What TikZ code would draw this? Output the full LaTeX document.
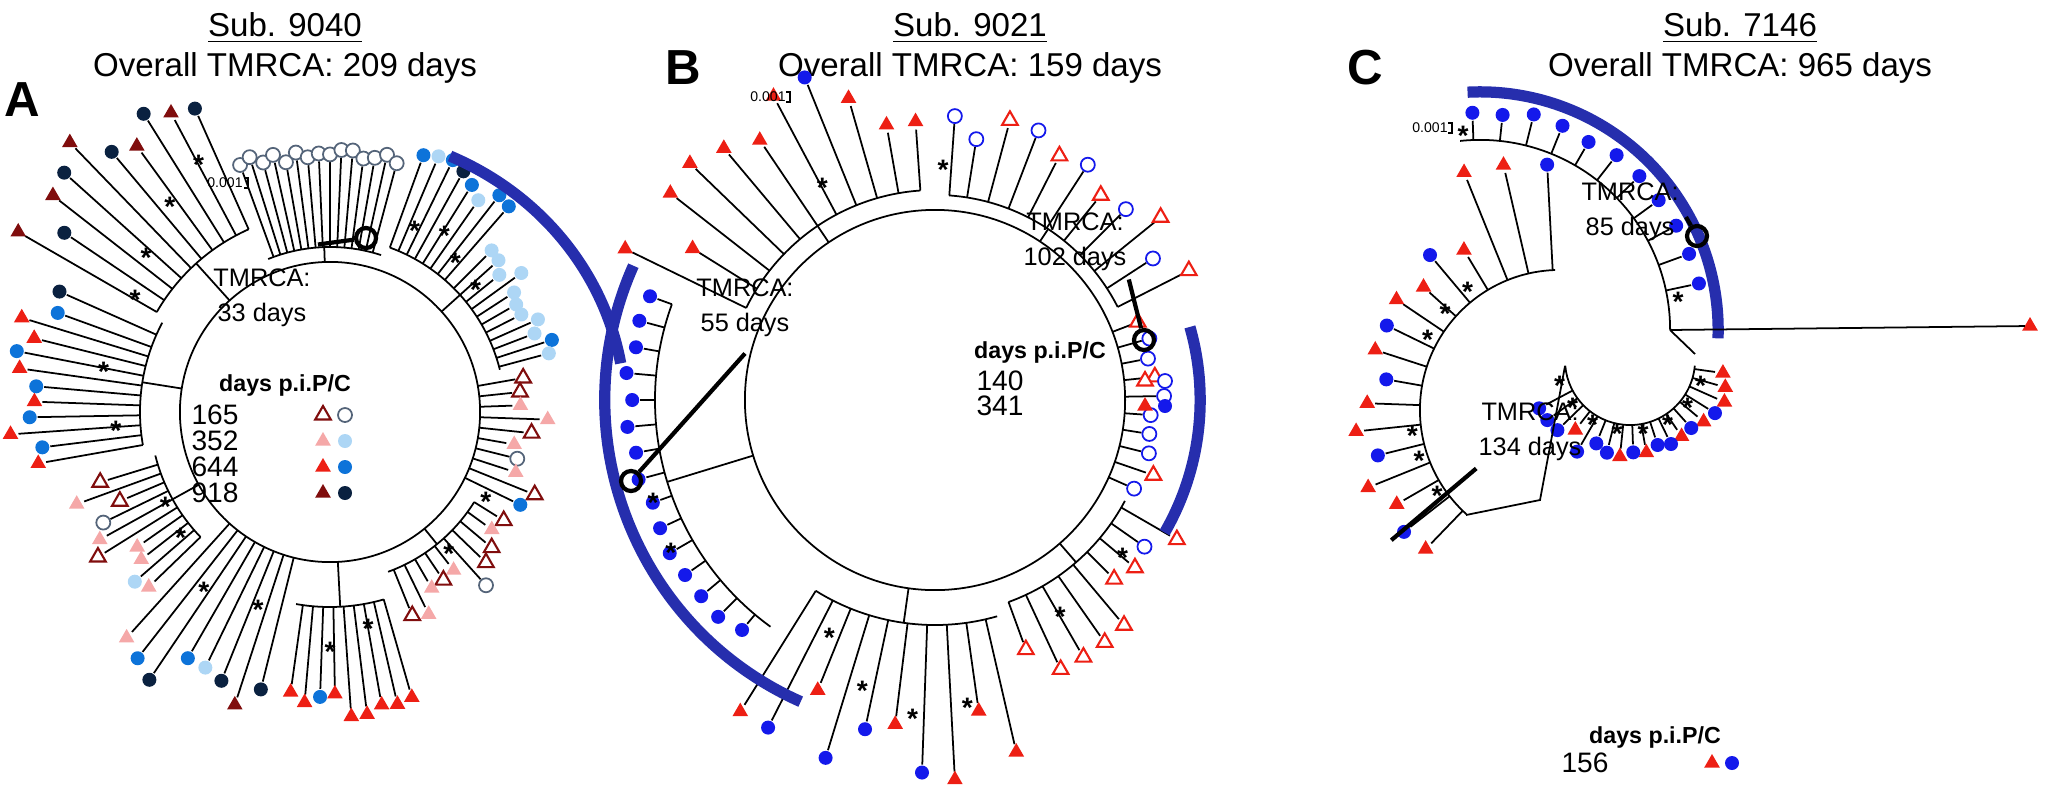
\documentclass[tikz,border=0pt]{standalone}
\usepackage{fontspec}
\setmainfont{Liberation Sans}
\usetikzlibrary{
  arrows.meta,
  positioning,
  shapes.geometric
}
\usepackage{xcolor}
\definecolor{darkRed}{rgb}{0.50,0.05,0.05}
\definecolor{pinkTri}{rgb}{0.96,0.66,0.66}
\definecolor{redTri}{rgb}{0.93,0.12,0.08}
\definecolor{lightBlue}{rgb}{0.68,0.84,0.96}
\definecolor{midBlue}{rgb}{0.05,0.45,0.85}
\definecolor{navyDot}{rgb}{0.04,0.13,0.25}
\definecolor{pureBlue}{rgb}{0.08,0.10,0.92}
\definecolor{arcBlue}{rgb}{0.15,0.18,0.68}
\tikzset{
  br/.style={line width=0.5pt, black},
  mk/.style={inner sep=0pt, outer sep=0pt},
  tri/.style={mk, regular polygon, regular polygon sides=3, minimum size=0.18cm},
  dot/.style={mk, circle, minimum size=0.14cm},
  oNv/.style={dot, draw=navyDot!70, line width=0.5pt, fill=white},
  lbC/.style={dot, fill=lightBlue},
  mbC/.style={dot, fill=midBlue},
  nvC/.style={dot, fill=navyDot},
  oRt/.style={tri, draw=darkRed, line width=0.6pt, fill=white},
  pkT/.style={tri, fill=pinkTri},
  rdT/.style={tri, fill=redTri},
  drT/.style={tri, fill=darkRed},
  bC/.style={dot, fill=pureBlue},
  oBC/.style={dot, draw=pureBlue, line width=0.5pt, fill=white},
  oRT/.style={tri, draw=redTri, line width=0.6pt, fill=white},
  ast/.style={inner sep=0pt, font=\fontsize{8}{8}\selectfont\bfseries},
  bluearc/.style={arcBlue, line width=3.2pt},
  ttl/.style={align=center, font=\fontsize{9.4}{11.4}\selectfont},
  lbl/.style={font=\fontsize{14}{14}\selectfont\bfseries},
  tmr/.style={align=center, font=\fontsize{7.2}{10}\selectfont},
  leg/.style={font=\fontsize{8}{9}\selectfont, inner sep=0pt},
  legh/.style={font=\fontsize{6.6}{8}\selectfont\bfseries, inner sep=0pt},
  mrca/.style={circle, draw, line width=1.2pt, minimum size=0.2cm, inner sep=0pt},
  tiny/.style={font=\fontsize{4}{4}\selectfont, inner sep=0pt}
}
\newcommand\tip[4]{%
  \pgfmathsetmacro\tipEnd{#2+#3}\pgfmathsetmacro\tipMark{#2+#3+8}%
  \draw[br] (#1:#2) -- (#1:\tipEnd);
  \node[#4] at (#1:\tipMark) {};}
% base radius, least length, spread, angle/style list
\newcommand\tipset[4]{%
  \foreach \a/\s in {#4}{\pgfmathsetmacro\len{#2+#3*rnd}\tip{\a}{#1}{\len}{\s}}}
% clade: from backbone \Rb out to radius #3, arc from #1 to #2
\newcommand\clade[3]{%
  \pgfmathsetmacro\cMid{(#1+#2)/2}\pgfmathsetmacro\cRad{#3/100}%
  \draw[br] (\cMid:\Rb) -- (\cMid:#3);
  \draw[br] (#1:#3) arc[start angle=#1, end angle=#2, radius=\cRad cm];}

\begin{document}
\begin{tikzpicture}[x=0.01cm, y=-0.01cm]
  \pgfmathsetseed{11}
  \useasboundingbox (0,0) rectangle (2049,800);

  % titles
  \node[lbl] (labA) at (22,100) {A};
  \node[lbl] (labB) at (683,68) {B};
  \node[lbl] (labC) at (1365,68) {C};
  \node[ttl] (ttlA) at (285,48) {\underline{Sub. 9040}\\Overall TMRCA: 209 days};
  \node[ttl] (ttlB) at (970,48) {\underline{Sub. 9021}\\Overall TMRCA: 159 days};
  \node[ttl] (ttlC) at (1740,48) {\underline{Sub. 7146}\\Overall TMRCA: 965 days};

  % panel A
  \begin{scope}[shift={(330,412)}, y=0.01cm]
    \def\Rb{150}
    \draw[br] (0,0) circle (1.5cm);
    \clade{112}{72}{165}
    \tipset{165}{80}{15}{110/oNv,107.5/oNv,105/oNv,102.5/oNv,100/oNv,97.5/oNv,95/oNv,92.5/oNv,90/oNv,87.5/oNv,85/oNv,82.5/oNv,80/oNv,77.5/oNv,75/oNv}
    \clade{70}{14}{175}
    \tipset{175}{70}{30}{70/mbC,67/lbC,64/mbC,61/nvC,58/mbC,55/lbC,52/mbC,49/mbC}
    \tipset{175}{30}{25}{45/lbC,42/lbC,39/lbC,36/lbC,33/lbC,30/lbC,27/lbC,24/lbC,21/lbC,18/mbC,15/lbC}
    \tipset{150}{25}{60}{10/oRt,6/oRt,2/pkT,-2/pkT,-6/oRt,-10/pkT,-14/oNv,-18/pkT,-22/oRt,-26/mbC}
    \clade{-32}{-70}{170}
    \tipset{170}{20}{40}{-32/oRt,-36/pkT,-40/oRt,-44/oRt,-48/oNv,-52/pkT,-56/oRt,-60/pkT,-64/pkT,-68/oRt}
    \clade{-74}{-100}{195}
    \tipset{195}{70}{40}{-74/rdT,-77/rdT,-80/rdT,-83/rdT,-86/rdT,-89/rdT,-92/mbC,-95/rdT,-98/rdT}
    \tipset{150}{110}{70}{-104/nvC,-108/drT,-112/nvC,-116/lbC,-120/mbC,-124/nvC,-128/mbC,-132/pkT}
    \clade{-136}{-166}{180}
    \tipset{180}{40}{50}{-136/pkT,-139/lbC,-142/pkT,-145/pkT,-148/oRt,-151/pkT,-154/oNv,-157/oRt,-160/pkT,-163/oRt}
    \clade{-170}{-208}{190}
    \tipset{190}{90}{40}{-170/rdT,-173/mbC,-176/rdT,-179/mbC,-182/rdT,-185/mbC,-188/rdT,-191/mbC,-194/rdT,-197/rdT,-200/mbC,-204/nvC}
    \clade{150}{114}{200}
    \tipset{200}{110}{70}{150/drT,146/nvC,142/drT,138/nvC,134/drT,130/nvC,126/drT,122/nvC,118/drT,114/nvC}
    \foreach \a/\r in {65/200,57/210,50/195,40/190,-30/180,-50/185,-80/220,-90/240,-110/210,-125/220,-140/195,-150/190,-175/215,-190/230,140/240,128/260,118/280,150/225}
      \node[ast] at (\a:\r) {*};
    \draw[bluearc] (66:2.95cm and 2.8cm) arc[start angle=66, end angle=10, x radius=2.95cm, y radius=2.8cm];
  \end{scope}
  \node[tiny] (scA) at (225,183) {0.001};
  \draw[br] (244,178) -- (248,178) -- (248,188) -- (244,188);
  \node[mrca] (cA) at (366,238) {};
  \node[tmr] (tA) at (262,298) {TMRCA:\\33 days};
  \draw[line width=1.2pt] (tA.north east) ++(-5,-12) -- (cA);
  \node[legh] (hA) at (285,385) {days p.i.P/C};
  \foreach \v/\t/\c [count=\i] in {165/oRt/oNv,352/pkT/lbC,644/rdT/mbC,918/drT/nvC} {
    \node[leg] (nA\i) at (215,389+\i*26) {\v};
    \node[\t] (mtA\i) at (323,389+\i*26) {};
    \node[\c] (mcA\i) at (345,389+\i*26) {};
  }

  % panel B
  \begin{scope}[shift={(935,400)}, y=0.01cm]
    \def\Rb{190}
    \draw[br] (0,0) circle (1.9cm);
    \clade{160}{234}{280}
    \tipset{280}{12}{10}{160/bC,165/bC,170/bC,175/bC,180/bC,185/bC,190/bC,195/bC,200/bC,205/bC,210/bC,215/bC,220/bC,225/bC,230/bC}
    \clade{238}{286}{225}
    \tipset{225}{80}{70}{238/rdT,243/bC,248/rdT,253/bC,258/bC,263/rdT,268/bC,273/rdT,278/rdT,283/rdT}
    \clade{290}{332}{215}
    \tipset{215}{30}{45}{290/oRT,295/oRT,300/oRT,305/oRT,310/oRT,315/oRT,320/oRT,325/oBC,330/oRT}
    \tipset{190}{15}{20}{336/oBC,341/oRT,346/oBC,351/oBC,356/oBC,1/oBC,6/oRT,11/oBC,16/oBC,21/oRT}
    \clade{27}{86}{205}
    \tipset{205}{40}{45}{27/oRT,33/oBC,39/oRT,45/oBC,51/oRT,57/oBC,63/oRT,69/oBC,75/oRT,81/oBC,86/oBC}
    \clade{94}{154}{210}
    \tipset{210}{60}{90}{94/rdT,100/rdT,106/rdT,112/bC,118/rdT,124/rdT,130/rdT,136/rdT,142/rdT,148/rdT,154/rdT}
    \foreach \a/\r in {200/300,210/305,246/260,256/300,266/320,276/310,300/250,320/245,88/230,118/240}
      \node[ast] at (\a:\r) {*};
    \draw[bluearc] (156:3.3cm) arc[start angle=156, end angle=246, radius=3.3cm];
    \draw[bluearc] (16:2.65cm) arc[start angle=16, end angle=-30, radius=2.65cm];
  \end{scope}
  \node[tiny] (scB) at (768,97) {0.001};
  \draw[br] (786,92) -- (790,92) -- (790,102) -- (786,102);
  \node[mrca] (cB1) at (1144,340) {};
  \node[mrca] (cB2) at (631,481) {};
  \node[tmr] (tB1) at (1075,242) {TMRCA:\\102 days};
  \node[tmr] (tB2) at (745,308) {TMRCA:\\55 days};
  \draw[line width=1.2pt] (tB1.south east) ++(-10,-4) -- (cB1);
  \draw[line width=1.2pt] (tB2.south) ++(0,4) -- (cB2);
  \node[legh] (hB) at (1040,352) {days p.i.P/C};
  \foreach \v/\t/\c [count=\i] in {140/oRT/oBC,341/rdT/bC} {
    \node[leg] (nB\i) at (1000,356+\i*25) {\v};
    \node[\t] (mtB\i) at (1145,356+\i*25) {};
    \node[\c] (mcB\i) at (1165,356+\i*25) {};
  }

  % panel C
  \begin{scope}[shift={(1480,330)}, y=0.01cm]
    \def\Rb{190}
    \draw[br] (96:1.9cm) arc[start angle=96, end angle=0, radius=1.9cm];
    \tipset{190}{18}{8}{92/bC,84/bC,76/bC,68/bC,60/bC,52/bC,44/bC,36/bC,28/bC,20/bC,12/bC}
    \node[ast] at (95:195) {*};
    \node[ast] at (8:200) {*};
    \draw[bluearc] (93:2.38cm) arc[start angle=93, end angle=-2, radius=2.38cm];
  \end{scope}
  \node[rdT] (rC2) at (2030,326) {};
  \coordinate (jC1) at (1670,330);
  \coordinate (jC2) at (1695,354);
  \draw[br] (jC1) -- (rC2);
  \draw[br] (jC1) -- (jC2);
  \begin{scope}[shift={(1630,360)}, y=0.01cm]
    \def\Rb{65}
    \draw[br] (-5:0.65cm) arc[start angle=-5, end angle=-175, radius=0.65cm];
    \tipset{65}{15}{18}{-8/rdT,-16/rdT,-24/rdT,-32/bC,-40/rdT,-48/bC,-56/rdT,-64/bC,-72/bC,-80/rdT,-88/bC,-96/rdT,-104/bC,-112/bC,-120/bC,-128/rdT,-136/bC,-144/bC,-152/bC}
    \foreach \a in {-20,-40,-60,-80,-100,-120,-140,-160} \node[ast] at (\a:75) {*};
  \end{scope}
  \coordinate (jC3) at (1565,366);
  \coordinate (jC4) at (1466,515);
  \draw[br] (jC4) -- (1540,500) -- (jC3);
  \begin{scope}[shift={(1560,410)}, y=0.01cm]
    \def\Rb{140}
    \draw[br] (92:1.4cm) arc[start angle=92, end angle=228, radius=1.4cm];
    \tipset{140}{70}{40}{93/bC,103/rdT,112/rdT}
    \tipset{140}{25}{35}{121/rdT,130/bC,138/rdT,146/rdT,154/bC,162/rdT,170/bC,178/rdT,186/rdT,194/bC,202/rdT,210/rdT,218/bC,226/rdT}
    \foreach \a in {128,140,152,190,200,215} \node[ast] at (\a:150) {*};
  \end{scope}
  \node[tiny] (scC) at (1430,128) {0.001};
  \draw[br] (1448,123) -- (1452,123) -- (1452,133) -- (1448,133);
  \node[mrca] (cC1) at (1697,236) {};
  \node[mrca, draw=none] (cC2) at (1382,548) {};
  \node[tmr] (tC1) at (1630,212) {TMRCA:\\85 days};
  \node[tmr] (tC2) at (1530,432) {TMRCA:\\134 days};
  \draw[line width=1.2pt] (tC1.east) ++(-5,5) -- (cC1);
  \draw[line width=1.2pt] (tC2.south west) ++(10,-5) -- (cC2);
  \node[legh] (hC) at (1655,737) {days p.i.P/C};
  \node[leg] (nC1) at (1585,763) {156};
  \node[rdT] (mtC1) at (1712,763) {};
  \node[bC] (mcC1) at (1732,763) {};
\end{tikzpicture}
\end{document}
